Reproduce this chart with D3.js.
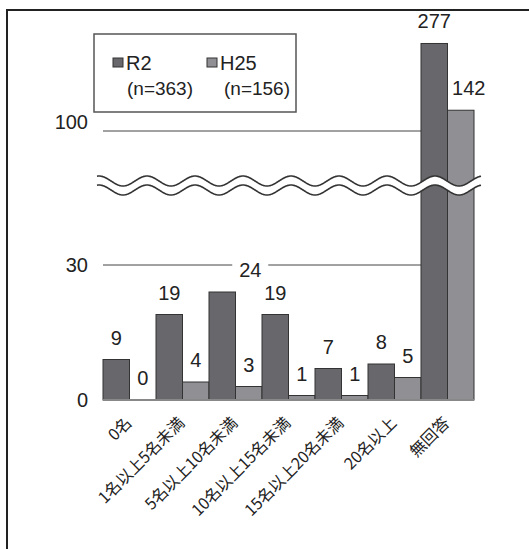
<!DOCTYPE html>
<html><head><meta charset="utf-8">
<script src="https://cdn.jsdelivr.net/npm/d3@7"></script>
<style>
html,body{margin:0;padding:0;background:#fff;}
svg{display:block;}
</style></head>
<body>
<script>
const categories = ["0名","1名以上5名未満","5名以上10名未満","10名以上15名未満","15名以上20名未満","20名以上","無回答"];
const seriesNames = ["R2","H25"];
const seriesN = ["(n=363)","(n=156)"];
const valuesR2 = [9,19,24,19,7,8,277];
const valuesH25 = [0,4,3,1,1,5,142];
const yTicks = [0,30,100];

const W = 529, H = 549;
const svg = d3.select("body").append("svg").attr("width",W).attr("height",H);
const numFont = "'Liberation Sans', Arial, sans-serif";
const jpFont = "'Noto Sans CJK JP', sans-serif";
const colors = {R2:"#68686c", H25:"#909094"};
const fs = 20;

// frame
svg.append("path").attr("d","M7,549 L7,10 L529,10").attr("fill","none").attr("stroke","#222").attr("stroke-width",2);

const x0 = d3.scaleBand().domain(categories).range([103,474]).padding(0);
const x1 = d3.scaleBand().domain(seriesNames).range([0,x0.bandwidth()]).padding(0);
// broken axis: lower piece 0-30, upper piece 100-280
const y = d3.scaleLinear().domain([0,30,100,280]).range([400,265,131,42]);

// gridlines
svg.append("g").selectAll("line").data(yTicks.filter(d=>d>0)).join("line")
  .attr("x1",103).attr("x2",474).attr("y1",d=>y(d)).attr("y2",d=>y(d))
  .attr("stroke","#444").attr("stroke-width",1);

// tick labels
svg.append("g").selectAll("text").data(yTicks).join("text")
  .attr("x",88).attr("y",d=>y(d)+(d===100?-2:7)).attr("text-anchor","end")
  .attr("font-family",numFont).attr("font-size",fs).attr("fill","#222").text(d=>d);

const rows = categories.map((c,i)=>({c, vals:[{s:"R2",v:valuesR2[i]},{s:"H25",v:valuesH25[i]}]}));

// bars
const g = svg.append("g");
rows.forEach(r=>{
  r.vals.forEach(d=>{
    if(d.v<=0) return;
    g.append("rect")
      .attr("x",x0(r.c)+x1(d.s)).attr("width",x1.bandwidth())
      .attr("y",y(d.v)).attr("height",y(0)-y(d.v))
      .attr("fill",colors[d.s]).attr("stroke","#333").attr("stroke-width",1);
  });
});

// axis baseline
svg.append("line").attr("x1",103).attr("x2",474).attr("y1",y(0)).attr("y2",y(0))
  .attr("stroke","#888").attr("stroke-width",2);

// break band (wavy)
const bx0 = 97, bx1 = 481, period = 48, amp = 5, yc1 = 181, yc2 = 190, phase = 147;
function wave(yc){
  const pts=[];
  for(let xx=bx0; xx<=bx1; xx+=1){
    pts.push([xx, yc - amp*Math.cos(2*Math.PI*(xx-phase)/period)]);
  }
  return pts;
}
const w1 = wave(yc1), w2 = wave(yc2);
const line = d3.line();
svg.append("path").attr("d", line(w1.concat(w2.slice().reverse()))+"Z").attr("fill","#fff").attr("stroke","none");
svg.append("path").attr("d", line(w1)).attr("fill","none").attr("stroke","#333").attr("stroke-width",1.6);
svg.append("path").attr("d", line(w2)).attr("fill","none").attr("stroke","#333").attr("stroke-width",1.6);

// value labels
rows.forEach((r,i)=>{
  r.vals.forEach(d=>{
    let cx = x0(r.c)+x1(d.s)+x1.bandwidth()/2;
    let dx = 0;
    if(d.s==="R2" && i===2) dx = 28;
    if(d.s==="H25" && i===6) dx = 8;
    const ty = y(d.v)-15;
    if(d.s==="R2" && i===2){
      svg.append("rect").attr("x",cx+dx-18).attr("y",ty-17).attr("width",36).attr("height",21).attr("fill","#fff");
    }
    svg.append("text").attr("x",cx+dx).attr("y",ty).attr("text-anchor","middle")
      .attr("font-family",numFont).attr("font-size",fs).attr("fill","#222").text(d.v);
  });
});

// x labels
svg.append("g").selectAll("text").data(categories).join("text")
  .attr("transform",d=>`translate(${x0(d)+x0.bandwidth()/2+3},424) rotate(-45)`)
  .attr("text-anchor","end").attr("font-family",jpFont).attr("font-size",16).attr("fill","#222").text(d=>d);

// legend
const lg = svg.append("g");
lg.append("rect").attr("x",94).attr("y",34).attr("width",202).attr("height",78)
  .attr("fill","#fff").attr("stroke","#555").attr("stroke-width",1.5);
const legX = [113,207];
seriesNames.forEach((s,i)=>{
  lg.append("rect").attr("x",legX[i]).attr("y",58).attr("width",10).attr("height",9)
    .attr("fill",colors[s]).attr("stroke","#333").attr("stroke-width",1);
  lg.append("text").attr("x",legX[i]+13).attr("y",70).attr("font-family",numFont).attr("font-size",fs).attr("fill","#222").text(s);
  lg.append("text").attr("x",legX[i]+14+(i?3:0)).attr("y",95).attr("font-family",numFont).attr("font-size",19).attr("fill","#222").text(seriesN[i]);
});
</script>
</body></html>
